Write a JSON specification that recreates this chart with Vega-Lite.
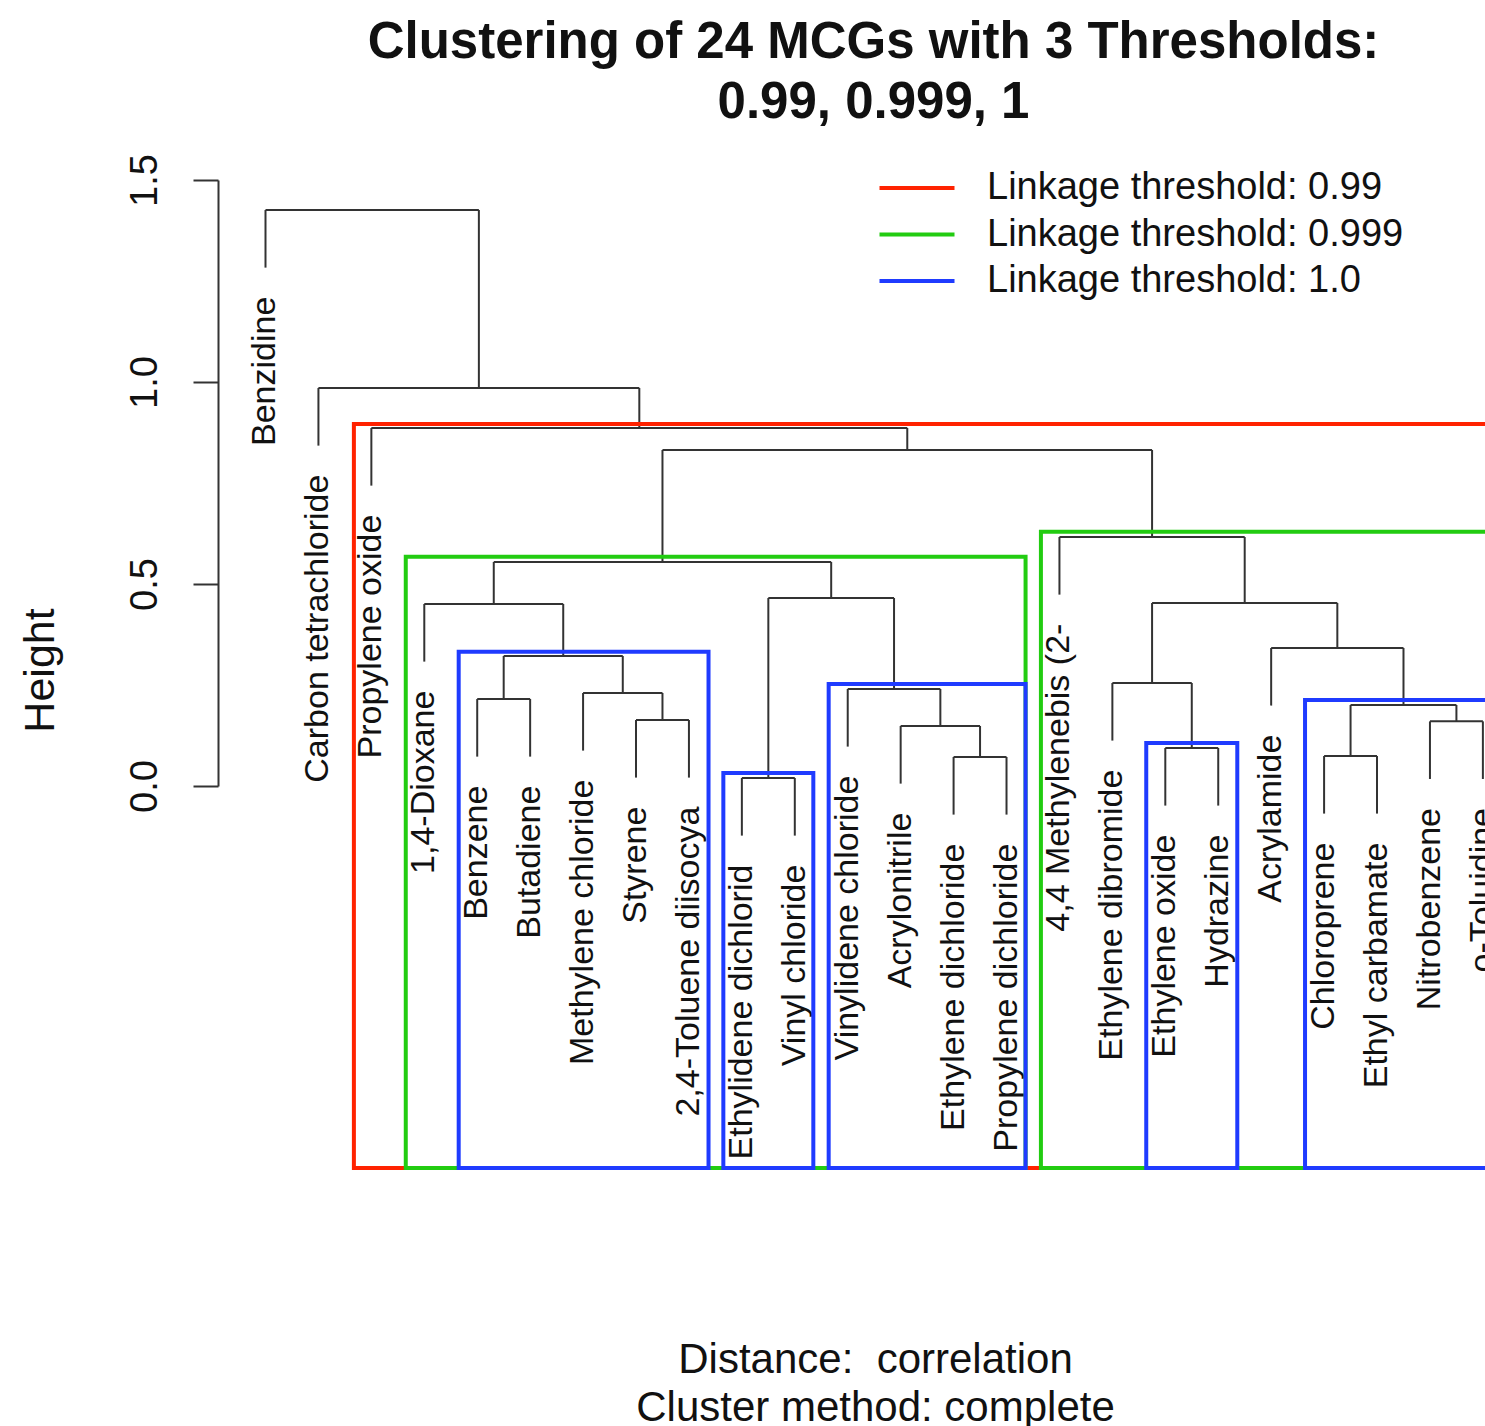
{
  "$schema": "https://vega.github.io/schema/vega-lite/v6.json",
  "autosize": "none",
  "width": 1267,
  "height": 606,
  "padding": {"left": 218, "top": 180, "right": 0, "bottom": 640},
  "background": "white",
  "title": {
    "text": ["Clustering of 24 MCGs with 3 Thresholds:", "0.99, 0.999, 1"],
    "fontSize": 51,
    "fontWeight": "bold",
    "lineHeight": 60,
    "anchor": "middle",
    "dx": 22,
    "offset": 25,
    "color": "#111111"
  },
  "config": {
    "font": "Liberation Sans",
    "view": {"stroke": null},
    "axisX": {
      "labels": false, "ticks": false, "domain": false, "grid": false,
      "titleFontSize": 42, "titleFontWeight": "normal", "titleColor": "#111111",
      "titleLineHeight": 48, "titleX": 657, "titleY": 586,
      "titleAlign": "center", "titleBaseline": "alphabetic"
    },
    "axisY": {
      "grid": false, "domainColor": "#333333", "domainWidth": 2,
      "tickColor": "#333333", "tickWidth": 2, "tickSize": 25, "tickCount": 4,
      "labelAngle": 270, "labelAlign": "center", "labelBaseline": "alphabetic",
      "labelPadding": 37, "labelFontSize": 38, "labelColor": "#111111",
      "titleFontSize": 43, "titleFontWeight": "normal", "titleColor": "#111111",
      "titleAngle": 270, "titleX": -165, "titleY": 490,
      "titleAlign": "center", "titleBaseline": "alphabetic"
    },
    "legend": {
      "orient": "none",
      "legendX": 680,
      "legendY": -11,
      "padding": 0,
      "symbolType": "M-2.5,0H2.5",
      "symbolSize": 900,
      "symbolStrokeWidth": 4,
      "labelFontSize": 38,
      "labelOffset": 51,
      "labelColor": "#111111",
      "rowPadding": 8.5,
      "labelLimit": 600
    }
  },
  "datasets": {
    "merges": [
      {"xl": 1, "xr": 5.03125, "h": 1.4257, "hl": 1.2831, "hr": 0.9851},
      {"xl": 2, "xr": 8.0625, "h": 0.9851, "hl": 0.8425, "hr": 0.8861},
      {"xl": 3, "xr": 13.125, "h": 0.8861, "hl": 0.7435, "hr": 0.8317},
      {"xl": 8.5, "xr": 17.75, "h": 0.8317, "hl": 0.5545, "hr": 0.6163},
      {"xl": 5.3125, "xr": 11.6875, "h": 0.5545, "hl": 0.4505, "hr": 0.4653},
      {"xl": 4, "xr": 6.625, "h": 0.4505, "hl": 0.3079, "hr": 0.3218},
      {"xl": 5.5, "xr": 7.75, "h": 0.3218, "hl": 0.2153, "hr": 0.2302},
      {"xl": 5, "xr": 6, "h": 0.2153, "hl": 0.0727, "hr": 0.0727},
      {"xl": 7, "xr": 8.5, "h": 0.2302, "hl": 0.0876, "hr": 0.1634},
      {"xl": 8, "xr": 9, "h": 0.1634, "hl": 0.0208, "hr": 0.0208},
      {"xl": 10.5, "xr": 12.875, "h": 0.4653, "hl": 0.0198, "hr": 0.2401},
      {"xl": 10, "xr": 11, "h": 0.0198, "hl": -0.1228, "hr": -0.1228},
      {"xl": 12, "xr": 13.75, "h": 0.2401, "hl": 0.0975, "hr": 0.1485},
      {"xl": 13, "xr": 14.5, "h": 0.1485, "hl": 0.0059, "hr": 0.0718},
      {"xl": 14, "xr": 15, "h": 0.0718, "hl": -0.0708, "hr": -0.0708},
      {"xl": 16, "xr": 19.5, "h": 0.6163, "hl": 0.4737, "hr": 0.4530},
      {"xl": 17.75, "xr": 21.25, "h": 0.4530, "hl": 0.2550, "hr": 0.3416},
      {"xl": 17, "xr": 18.5, "h": 0.2550, "hl": 0.1124, "hr": 0.0941},
      {"xl": 18, "xr": 19, "h": 0.0941, "hl": -0.0485, "hr": -0.0485},
      {"xl": 20, "xr": 22.5, "h": 0.3416, "hl": 0.1990, "hr": 0.2005},
      {"xl": 21.5, "xr": 23.5, "h": 0.2005, "hl": 0.0743, "hr": 0.1600},
      {"xl": 21, "xr": 22, "h": 0.0743, "hl": -0.0683, "hr": -0.0683},
      {"xl": 23, "xr": 24, "h": 0.1600, "hl": 0.0174, "hr": 0.0174}
    ],
    "leaves": [
      {"name": "Benzidine", "i": 1, "h": 1.2831},
      {"name": "Carbon tetrachloride", "i": 2, "h": 0.8425},
      {"name": "Propylene oxide", "i": 3, "h": 0.7435},
      {"name": "1,4-Dioxane", "i": 4, "h": 0.3079},
      {"name": "Benzene", "i": 5, "h": 0.0727},
      {"name": "Butadiene", "i": 6, "h": 0.0727},
      {"name": "Methylene chloride", "i": 7, "h": 0.0876},
      {"name": "Styrene", "i": 8, "h": 0.0208},
      {"name": "2,4-Toluene diisocya", "i": 9, "h": 0.0208},
      {"name": "Ethylidene dichlorid", "i": 10, "h": -0.1228},
      {"name": "Vinyl chloride", "i": 11, "h": -0.1228},
      {"name": "Vinylidene chloride", "i": 12, "h": 0.0975},
      {"name": "Acrylonitrile", "i": 13, "h": 0.0059},
      {"name": "Ethylene dichloride", "i": 14, "h": -0.0708},
      {"name": "Propylene dichloride", "i": 15, "h": -0.0708},
      {"name": "4,4 Methylenebis (2-", "i": 16, "h": 0.4737},
      {"name": "Ethylene dibromide", "i": 17, "h": 0.1124},
      {"name": "Ethylene oxide", "i": 18, "h": -0.0485},
      {"name": "Hydrazine", "i": 19, "h": -0.0485},
      {"name": "Acrylamide", "i": 20, "h": 0.1990},
      {"name": "Chloroprene", "i": 21, "h": -0.0683},
      {"name": "Ethyl carbamate", "i": 22, "h": -0.0683},
      {"name": "Nitrobenzene", "i": 23, "h": 0.0174},
      {"name": "o-Toluidine", "i": 24, "h": 0.0174}
    ],
    "boxes": [
      {"threshold": "Linkage threshold: 0.99", "x1": 2.67, "x2": 24.36, "top": 0.896, "bottom": -0.9455},
      {"threshold": "Linkage threshold: 0.999", "x1": 3.65, "x2": 15.36, "top": 0.5676, "bottom": -0.9455},
      {"threshold": "Linkage threshold: 0.999", "x1": 15.65, "x2": 24.36, "top": 0.6295, "bottom": -0.9455},
      {"threshold": "Linkage threshold: 1.0", "x1": 4.65, "x2": 9.37, "top": 0.3324, "bottom": -0.9455},
      {"threshold": "Linkage threshold: 1.0", "x1": 9.65, "x2": 11.35, "top": 0.0322, "bottom": -0.9455},
      {"threshold": "Linkage threshold: 1.0", "x1": 11.64, "x2": 15.36, "top": 0.2525, "bottom": -0.9455},
      {"threshold": "Linkage threshold: 1.0", "x1": 17.64, "x2": 19.36, "top": 0.1064, "bottom": -0.9455},
      {"threshold": "Linkage threshold: 1.0", "x1": 20.64, "x2": 24.36, "top": 0.2129, "bottom": -0.9455}
    ]
  },
  "layer": [
    {
      "data": {"name": "merges"},
      "mark": {"type": "rule", "color": "#333333", "strokeWidth": 2},
      "encoding": {
        "x": {
          "field": "xl", "type": "quantitative",
          "title": ["Distance:\u00a0 correlation", "Cluster method: complete"],
          "scale": {"domain": [0.1026, 24.04], "nice": false, "zero": false}
        },
        "x2": {"field": "xr"},
        "y": {
          "field": "h", "type": "quantitative", "title": "Height",
          "scale": {"domain": [0, 1.5], "nice": false, "zero": false},
          "axis": {"values": [0, 0.5, 1, 1.5], "format": ".1f"}
        }
      }
    },
    {
      "data": {"name": "merges"},
      "mark": {"type": "rule", "color": "#333333", "strokeWidth": 2},
      "encoding": {
        "x": {"field": "xl", "type": "quantitative", "title": ["Distance:\u00a0 correlation", "Cluster method: complete"]},
        "y": {"field": "h", "type": "quantitative", "title": "Height"},
        "y2": {"field": "hl"}
      }
    },
    {
      "data": {"name": "merges"},
      "mark": {"type": "rule", "color": "#333333", "strokeWidth": 2},
      "encoding": {
        "x": {"field": "xr", "type": "quantitative", "title": ["Distance:\u00a0 correlation", "Cluster method: complete"]},
        "y": {"field": "h", "type": "quantitative", "title": "Height"},
        "y2": {"field": "hr"}
      }
    },
    {
      "data": {"name": "leaves"},
      "mark": {"type": "text", "angle": 270, "align": "right", "baseline": "middle", "dx": -29, "fontSize": 34, "color": "#111111"},
      "encoding": {
        "x": {"field": "i", "type": "quantitative", "title": ["Distance:\u00a0 correlation", "Cluster method: complete"]},
        "y": {"field": "h", "type": "quantitative", "title": "Height"},
        "text": {"field": "name"}
      }
    },
    {
      "data": {"name": "boxes"},
      "mark": {"type": "rect", "fill": "transparent", "strokeWidth": 4},
      "encoding": {
        "x": {"field": "x1", "type": "quantitative", "title": ["Distance:\u00a0 correlation", "Cluster method: complete"]},
        "x2": {"field": "x2"},
        "y": {"field": "top", "type": "quantitative", "title": "Height"},
        "y2": {"field": "bottom"},
        "stroke": {
          "field": "threshold", "type": "nominal",
          "scale": {"domain": ["Linkage threshold: 0.99", "Linkage threshold: 0.999", "Linkage threshold: 1.0"], "range": ["#FF2200", "#22CC11", "#1F3BFF"]},
          "legend": {"title": null}
        }
      }
    }
  ]
}
